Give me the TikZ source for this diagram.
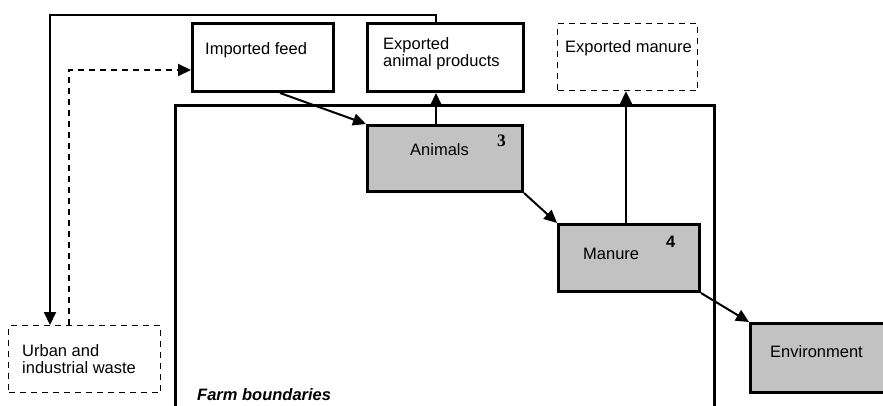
\documentclass[tikz,border=0pt]{standalone}
\usepackage{fontspec}
\setmainfont{Liberation Sans}
\newfontfamily\numserif{Liberation Serif}
\usetikzlibrary{arrows.meta}
\begin{document}
\begin{tikzpicture}[x=1pt,y=-1pt,
  box/.style={draw, line width=3pt, inner sep=0pt, anchor=north west},
  dbox/.style={draw, line width=1.2pt, dash pattern=on 6pt off 5pt, inner sep=0pt, anchor=north west},
  shaded/.style={fill=black!24},
  arr/.style={line width=2pt, -{Triangle[length=13pt,width=12pt]}},
  boundary/.style={line width=3pt},
  lbl/.style={inner sep=0pt, anchor=base west, align=left, font=\fontsize{16.5}{17}\selectfont},
  num/.style={inner sep=0pt, anchor=base west}
]
\useasboundingbox (0,0) rectangle (883,406);
\clip (0,0) rectangle (883,406);
% farm boundaries
\draw[boundary] (175,412) |- (714,106) -- (714,412);
% boxes
\node[box, minimum width=141pt, minimum height=68pt] (feed) at (191,22) {};
\node[box, minimum width=156pt, minimum height=68pt] (eap) at (366,22) {};
\node[dbox, minimum width=140pt, minimum height=67pt] (em) at (557,23) {};
\node[box, shaded, minimum width=155pt, minimum height=66pt] (animals) at (366,124) {};
\node[box, shaded, minimum width=141pt, minimum height=67pt] (manure) at (557,223) {};
\node[box, shaded, minimum width=160pt, minimum height=69pt] (env) at (749,322) {};
\node[dbox, minimum width=152pt, minimum height=67pt] (urban) at (8,325) {};
% labels
\node[lbl] (tfeed) at (205,55) {Imported feed};
\node[lbl] (teap) at (383,67) {Exported\\animal products};
\node[lbl] (tem) at (565,53) {Exported manure};
\node[lbl] (tanimals) at (410,156) {Animals};
\node[num, font=\numserif\bfseries\fontsize{17.5}{17.5}\selectfont] (n3) at (497,147) {3};
\node[lbl] (tmanure) at (583,259) {Manure};
\node[num, font=\bfseries\fontsize{16.5}{16.5}\selectfont] (n4) at (666,247) {4};
\node[lbl] (tenv) at (770,357) {Environment};
\node[lbl] (turban) at (22,373) {Urban and\\industrial waste};
\node[lbl, font=\bfseries\itshape\fontsize{16.5}{17}\selectfont] (tfarm) at (197,400) {Farm boundaries};
% helper coordinates
\coordinate (c1) at (436,0);
\coordinate (loopx) at (50,15);
\coordinate (dx) at (69,70);
\coordinate (fx) at (280,0);
\coordinate (mx) at (626,0);
% connectors
\draw[arr] (c1 |- eap.north) |- (loopx) -- (loopx |- urban.north);
\draw[arr, dash pattern=on 6pt off 5pt] (dx |- urban.north) -- (dx) -- (dx -| feed.west);
\draw[arr] (fx |- feed.south) -- (animals.north west);
\draw[arr] (c1 |- animals.north) -- (c1 |- eap.south);
\draw[arr] (animals.south east) -- (manure.north west);
\draw[arr] (mx |- manure.north) -- (mx |- em.south);
\draw[arr] (manure.south east) -- (env.north west);
\end{tikzpicture}
\end{document}
